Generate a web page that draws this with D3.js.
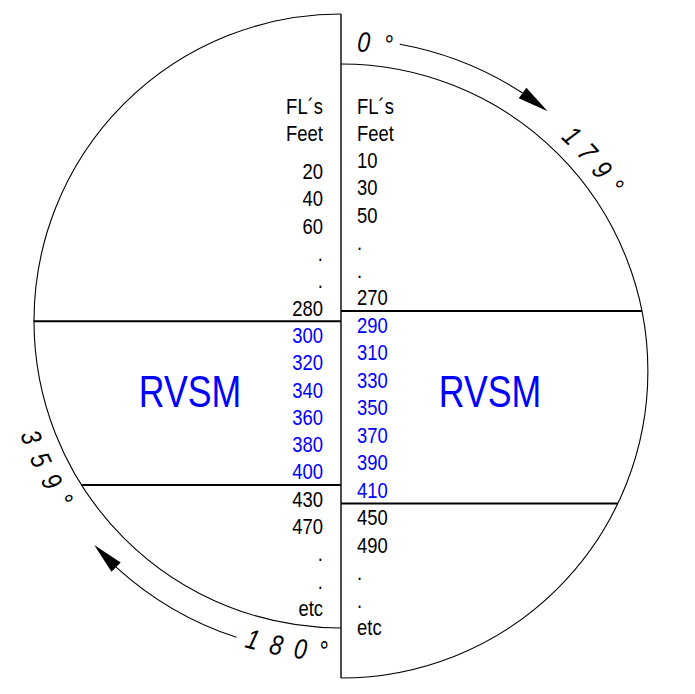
<!DOCTYPE html>
<html><head><meta charset="utf-8">
<script src="https://cdn.jsdelivr.net/npm/d3@7"></script>
<style>body{margin:0;background:#fff}svg{display:block}</style>
</head><body>
<script>
// ---- data ----
const headerLabels = ["FL´s", "Feet"];
const leftLevels  = ["20","40","60",".",".","280","300","320","340","360","380","400","430","470",".",".","etc"];
const rightLevels = ["10","30","50",".",".","270","290","310","330","350","370","390","410","450","490",".",".","etc"];
const leftRvsm  = ["300","320","340","360","380","400"];
const rightRvsm = ["290","310","330","350","370","390","410"];
const bandLabel = "RVSM";
const courseLabels = ["0 °", "1 7 9 °", "1 8 0 °", "3 5 9 °"];

// ---- layout ----
const W = 695, H = 694;
const FONT = "'Liberation Sans',Arial,sans-serif";
const SX = 0.82; // narrow face emulation
const BLUE = "#0000ff";
const X = 341;
const LC = {cx: 340.5, cy: 321, r: 307};
const RC = {cx: 341, cy: 371, r: 307};

const svg = d3.select("body").append("svg").attr("width", W).attr("height", H);

const yLeft = d3.scaleLinear().domain([0, leftLevels.length - 1]).range([171, 608]);
const yRight = d3.scaleLinear().domain([0, rightLevels.length - 1]).range([160, 627]);
const yHeader = d3.scaleLinear().domain([0, 1]).range([106, 133]);

// half circles
svg.append("path")
  .attr("d", `M${X},${LC.cy - LC.r} A${LC.r},${LC.r} 0 0 0 ${X},${LC.cy + LC.r}`)
  .attr("fill", "none").attr("stroke", "#000").attr("stroke-width", 1.1);
svg.append("path")
  .attr("d", `M${X},${RC.cy - RC.r} A${RC.r},${RC.r} 0 0 1 ${X},${RC.cy + RC.r}`)
  .attr("fill", "none").attr("stroke", "#000").attr("stroke-width", 1.1);
svg.append("line").attr("x1", X).attr("x2", X)
  .attr("y1", LC.cy - LC.r).attr("y2", RC.cy + RC.r)
  .attr("stroke", "#000").attr("stroke-width", 1.4);

// band dividers from the scales
function bandBounds(levels, band, scale) {
  const i0 = levels.indexOf(band[0]), i1 = levels.indexOf(band[band.length - 1]);
  const step = scale(1) - scale(0);
  return [scale(i0) - step / 2, scale(i1) + step / 2];
}
const lb = bandBounds(leftLevels, leftRvsm, yLeft);
const rb = bandBounds(rightLevels, rightRvsm, yRight);
lb.forEach(y => {
  const dx = Math.sqrt(LC.r * LC.r - (y - LC.cy) ** 2);
  svg.append("line").attr("x1", LC.cx - dx).attr("x2", X).attr("y1", y).attr("y2", y)
    .attr("stroke", "#000").attr("stroke-width", 2);
});
rb.forEach(y => {
  const dx = Math.sqrt(RC.r * RC.r - (y - RC.cy) ** 2);
  svg.append("line").attr("x1", X).attr("x2", RC.cx + dx).attr("y1", y).attr("y2", y)
    .attr("stroke", "#000").attr("stroke-width", 2);
});

// column texts
const FS = 22.5;
function column(levels, band, scale, x, anchor) {
  svg.append("g").selectAll("text").data(levels).join("text")
    .attr("transform", (d, i) => `translate(${x},${scale(i) + 8}) scale(${SX},1)`)
    .attr("text-anchor", anchor)
    .attr("font-family", FONT).attr("font-size", FS)
    .attr("fill", d => band.includes(d) ? BLUE : "#000")
    .text(d => d);
  svg.append("g").selectAll("text").data(headerLabels).join("text")
    .attr("transform", (d, i) => `translate(${x},${yHeader(i) + 8}) scale(${SX},1)`)
    .attr("text-anchor", anchor)
    .attr("font-family", FONT).attr("font-size", FS)
    .text(d => d);
}
column(leftLevels, leftRvsm, yLeft, 323, "end");
column(rightLevels, rightRvsm, yRight, 357, "start");

// RVSM labels
[190, 490].forEach(x => {
  svg.append("text").attr("transform", `translate(${x},407) scale(${SX},1)`).attr("text-anchor", "middle")
    .attr("font-family", FONT).attr("font-size", 43.5).attr("fill", BLUE).text(bandLabel);
});

// arrows
const rad = a => a * Math.PI / 180;
function pt(c, r, a) { return [c.cx + r * Math.sin(rad(a)), c.cy - r * Math.cos(rad(a))]; }
function arrow(c, r, a0, a1) {
  const len = 31, half = 6.5;
  const ab = a1 - (len / r) * 180 / Math.PI;
  const p = d3.path();
  const s = pt(c, r, a0);
  p.moveTo(s[0], s[1]);
  p.arc(c.cx, c.cy, r, rad(a0 - 90), rad(ab - 90), false);
  svg.append("path").attr("d", p.toString()).attr("fill", "none").attr("stroke", "#000").attr("stroke-width", 1.1);
  const T = pt(c, r, a1), B = pt(c, r, ab);
  const ux = (T[0] - B[0]) / len, uy = (T[1] - B[1]) / len;
  const nx = -uy, ny = ux;
  svg.append("path")
    .attr("d", `M${T[0]},${T[1]} L${B[0] + nx * half},${B[1] + ny * half} L${B[0] - nx * half},${B[1] - ny * half} Z`)
    .attr("fill", "#000");
}
arrow(RC, 332, 10.2, 38.5);
arrow(LC, 333, 198.2, 227.7);

// circular labels, glyph by glyph
const RFS = 28;
const meas = svg.append("text").attr("font-family", FONT).attr("font-size", RFS)
  .attr("font-style", "italic").attr("x", -1000).attr("y", -1000);
function charW(ch) {
  meas.text(ch === " " ? "\u00a0" : ch);
  return meas.node().getComputedTextLength() * SX;
}
// cw: true -> clockwise, tops outward; false -> counterclockwise, tops inward
function ringText(label, c, r, startAngle, cw, ls) {
  let off = 0;
  const g = svg.append("g");
  [...label].forEach(ch => {
    const w = charW(ch);
    const mid = off + w / 2;
    const a = startAngle + (cw ? 1 : -1) * (mid / r) * 180 / Math.PI;
    const p = pt(c, r, a);
    const rot = cw ? a : a - 180;
    if (ch !== " ") {
      g.append("text").attr("transform", `translate(${p[0]},${p[1]}) rotate(${rot}) scale(${SX},1)`)
        .attr("text-anchor", "middle").attr("font-family", FONT).attr("font-size", RFS)
        .attr("font-style", "italic").text(ch);
    }
    off += w + ls;
  });
}
ringText(courseLabels[0], RC, 320, 2.8, true, 3);
ringText(courseLabels[1], RC, 320, 43.3, true, 1.5);
ringText(courseLabels[2], LC, 340, 196.5, false, 3);
ringText(courseLabels[3], LC, 340, 250.5, false, 3);
meas.remove();
</script>
</body></html>
